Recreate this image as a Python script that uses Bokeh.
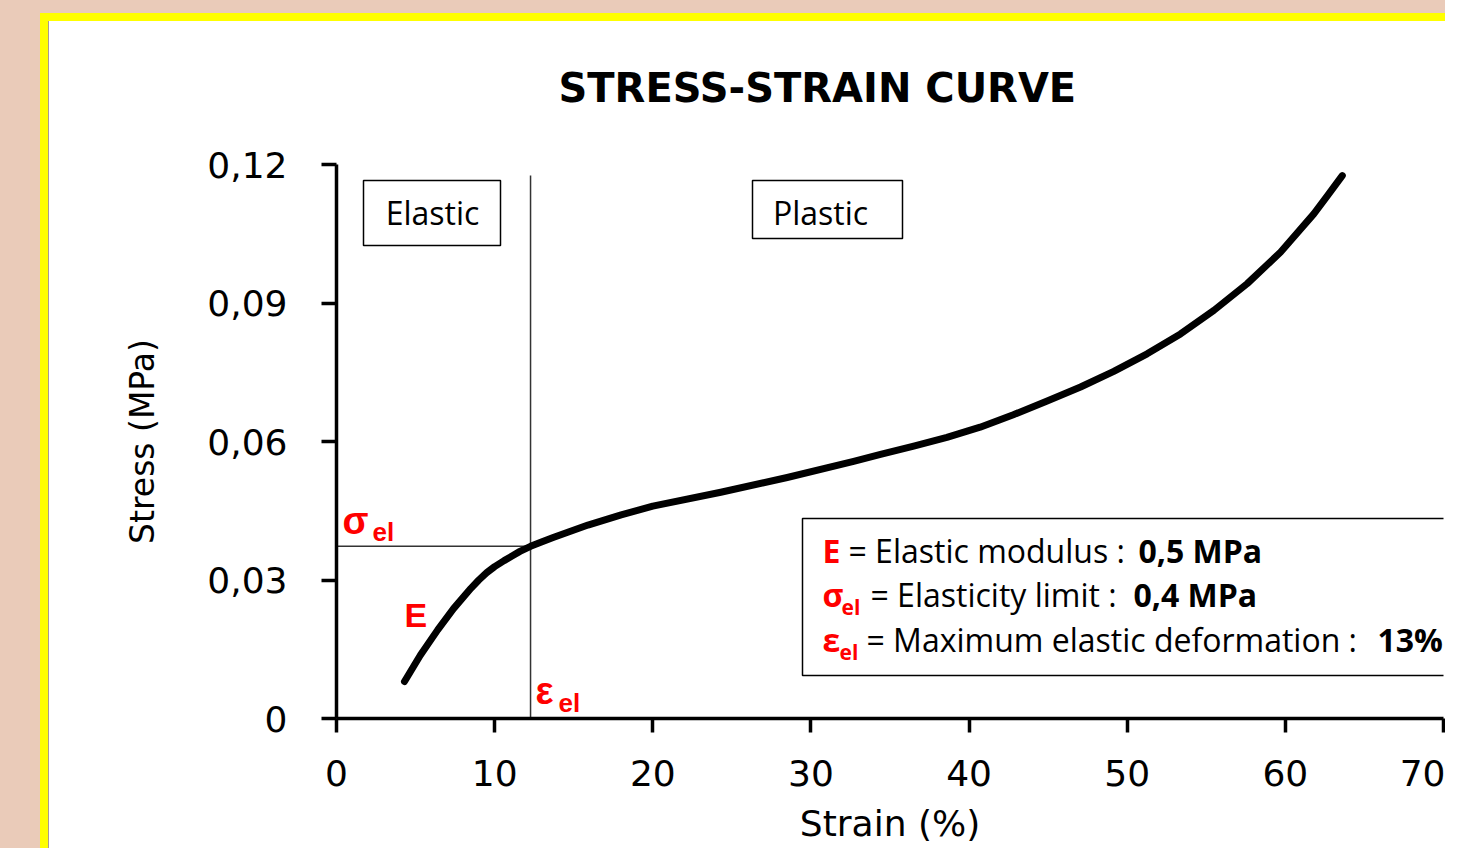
from bokeh.plotting import figure
from bokeh.models import Label, BoxAnnotation, FixedTicker
from bokeh.embed import file_html
from bokeh.resources import INLINE

# ---------------- data ----------------
strain = [4.3, 5.3, 6.4, 7.4, 8.5, 9.0, 9.5, 10.0, 10.6, 11.1, 11.6, 12.27,
          13.0, 13.7, 15.9, 18.0, 20.0, 24.3, 28.5, 32.7, 34.4, 36.5, 38.6,
          40.7, 42.8, 44.9, 47.05, 49.15, 51.26, 53.37, 55.48, 57.59, 59.69,
          61.8, 62.7, 63.6]
stress = [0.0080, 0.0137, 0.0192, 0.0238, 0.0282, 0.0300, 0.0316, 0.0329,
          0.0342, 0.0352, 0.0362, 0.0373, 0.0383, 0.0392, 0.0419, 0.0441,
          0.0460, 0.0490, 0.0522, 0.0557, 0.0572, 0.0590, 0.0609, 0.0631,
          0.0658, 0.0687, 0.0718, 0.0752, 0.0790, 0.0833, 0.0884, 0.0942,
          0.1010, 0.1093, 0.1134, 0.1176]
eps_el = 12.27      # % (maximum elastic deformation)
sigma_el = 0.0373   # MPa (elasticity limit)

x_ticks = [0, 10, 20, 30, 40, 50, 60, 70]
x_tick_labels = ["0", "10", "20", "30", "40", "50", "60", "70"]
y_ticks = [0, 0.03, 0.06, 0.09, 0.12]
y_tick_labels = ["0", "0,03", "0,06", "0,09", "0,12"]

title_text = "STRESS-STRAIN CURVE"
x_label = "Strain (%)"
y_label = "Stress (MPa)"
region_names = ["Elastic", "Plastic"]
legend_symbols = ["E", "σ", "ε"]
legend_subs = ["", "el", "el"]
legend_texts = ["= Elastic modulus :", "= Elasticity limit :",
                "= Maximum elastic deformation :"]
legend_values = ["0,5 MPa", "0,4 MPa", "13%"]

# ---------------- figure ----------------
W, H = 1445, 848
FL, FR, FT, FB = 336, 1443, 164, 718   # frame edges in pixels
p = figure(width=W, height=H, x_range=(0, 70), y_range=(0, 0.12),
           output_backend="svg", toolbar_location=None,
           min_border_left=FL, min_border_right=W - FR,
           min_border_top=FT, min_border_bottom=H - FB)
p.border_fill_alpha = 0
p.background_fill_alpha = 0
p.outline_line_color = None
p.grid.visible = False
p.styles = {
    "background": (
        "linear-gradient(#a89a94,#a89a94) 48px 21px / 1px 100% no-repeat, "
        "linear-gradient(#ffffff,#ffffff) 49px 21px / 100% 100% no-repeat, "
        "linear-gradient(#ffff00,#ffff00) 40px 13px / 100% 100% no-repeat, "
        "#eacbb9"
    )
}

# title
p.title.text = title_text
p.title.text_font = "DejaVu Sans"
p.title.text_font_style = "bold"
p.title.text_font_size = "40px"
p.title.text_color = "black"
p.title.align = "left"
p.title.offset = 558 - FL
p.title.standoff = 107

# helpers: pixel -> data coords for annotation placement
def X(px):
    return (px - FL) / (FR - FL) * 70

def Y(py):
    return (FB - py) / (FB - FT) * 0.12

# axes
for ax in (p.xaxis[0], p.yaxis[0]):
    ax.axis_line_width = 3.5
    ax.axis_line_color = "black"
    ax.major_tick_line_width = 3.5
    ax.major_tick_line_color = "black"
    ax.major_tick_in = 0
    ax.minor_tick_line_color = None
    ax.major_label_text_font = "DejaVu Sans"
    ax.major_label_text_font_size = "36px"
    ax.major_label_text_color = "black"
    ax.axis_label_text_font = "DejaVu Sans"
    ax.axis_label_text_font_style = "normal"
    ax.axis_label_text_color = "black"

p.xaxis.ticker = FixedTicker(ticks=x_ticks)
p.xaxis.major_label_overrides = dict(zip(x_ticks, x_tick_labels))
p.xaxis.major_tick_out = 14
p.xaxis.major_label_standoff = 27
p.xaxis.axis_label = x_label
p.xaxis.axis_label_text_font_size = "36px"
p.xaxis.axis_label_standoff = 14

p.yaxis.ticker = FixedTicker(ticks=y_ticks)
p.yaxis.major_label_overrides = dict(zip(y_ticks, y_tick_labels))
p.yaxis.major_tick_out = 15
p.yaxis.major_label_standoff = 34
p.yaxis.axis_label = y_label
p.yaxis.axis_label_text_font_size = "33px"
p.yaxis.axis_label_standoff = 42

# reference lines at the elastic limit
p.segment(x0=[eps_el, 0], y0=[0, sigma_el], x1=[eps_el, eps_el],
          y1=[max(stress), sigma_el], line_color="#333333", line_width=1.5)

# curve
p.line(strain, stress, line_color="black", line_width=7,
       line_cap="round", line_join="round")

# region boxes
box_style = dict(fill_color="white", fill_alpha=1, line_color="black",
                 line_alpha=1, line_width=1.5, level="underlay")
p.add_layout(BoxAnnotation(left=X(363), right=X(500), bottom=Y(245), top=Y(180),
                           **box_style))
p.add_layout(BoxAnnotation(left=X(752), right=X(902), bottom=Y(238), top=Y(180),
                           **box_style))
for name, cx in zip(region_names, [432, 820]):
    p.add_layout(Label(x=X(cx), y=Y(212), text=name, text_align="center",
                       text_baseline="middle", text_font="Open Sans",
                       text_font_size="32px", text_color="black"))

# legend box
p.add_layout(BoxAnnotation(left=X(802), right=80, bottom=Y(675), top=Y(518),
                           **box_style))

sym_x = [822, 822, 822]
sub_x = [0, 841, 839]
txt_x = [848, 870, 866]
val_x = [1138, 1133, 1377]
mid_y = [550, 594, 639]
red = "#ff0000"
for i in range(3):
    p.add_layout(Label(x=X(sym_x[i]), y=Y(mid_y[i]), text=legend_symbols[i],
                       text_font="Open Sans", text_font_style="bold",
                       text_font_size="32px", text_color=red,
                       text_baseline="middle"))
    if legend_subs[i]:
        p.add_layout(Label(x=X(sub_x[i]), y=Y(mid_y[i] + 12), text=legend_subs[i],
                           text_font="Open Sans", text_font_style="bold",
                           text_font_size="21px", text_color=red,
                           text_baseline="middle"))
    p.add_layout(Label(x=X(txt_x[i]), y=Y(mid_y[i]), text=legend_texts[i],
                       text_font="Open Sans", text_font_size="32px",
                       text_color="black", text_baseline="middle"))
    p.add_layout(Label(x=X(val_x[i]), y=Y(mid_y[i]), text=legend_values[i],
                       text_font="Open Sans", text_font_style="bold",
                       text_font_size="32px", text_color="black",
                       text_baseline="middle"))

# red labels on the chart
def red_label(px, py, txt, size):
    p.add_layout(Label(x=X(px), y=Y(py), text=txt,
                       text_font="Liberation Sans", text_font_style="bold",
                       text_font_size=size, text_color=red,
                       text_baseline="middle"))

red_label(342, 520, "σ", "38px")
red_label(372, 531, "el", "26px")
red_label(404, 614, "E", "34px")
red_label(535, 690, "ε", "38px")
red_label(558, 702, "el", "26px")

open("out.html", "w").write(file_html(p, INLINE))
